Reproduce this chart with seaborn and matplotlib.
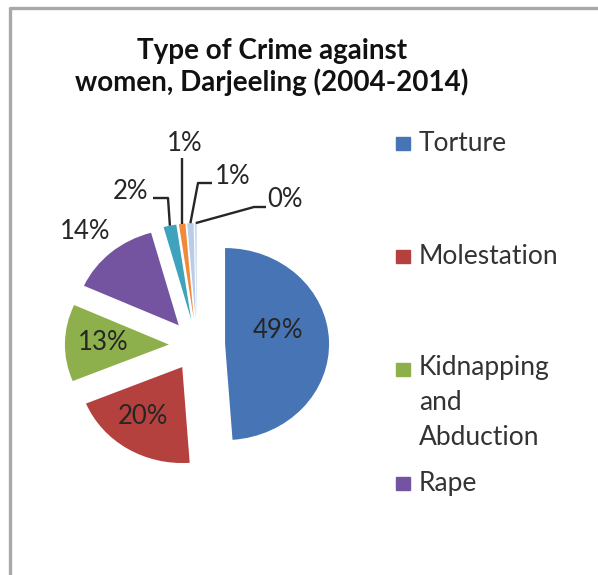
import matplotlib
matplotlib.use("Agg")
import matplotlib.pyplot as plt
import seaborn as sns
from matplotlib.patches import Rectangle
from matplotlib.lines import Line2D
import numpy as np

# data (percent of all crimes)
shares = [49, 20, 13, 14, 2, 1, 1, 0.3]
legend_names = ["Torture", "Molestation", "Kidnapping\nand\nAbduction", "Rape"]
slice_colors = ["#4674B4", "#B5413E", "#8DB04C", "#7454A0",
                "#3FA3BE", "#F0893A", "#B9CDE8", "#C6D9F1"]
title = "Type of Crime against\nwomen, Darjeeling (2004-2014)"

sns.set_theme(style="white")
plt.rcParams['font.family'] = ['Lato', 'DejaVu Sans']
pal = sns.color_palette(slice_colors)

W, H = 598, 575
fig = plt.figure(figsize=(W / 100, H / 100), dpi=100)
fig.patch.set_facecolor("white")

# pie centre and scale in pixels (picture is a bit stretched sideways)
cx, cy, sx, sy = 197, 345, 104, 96
ax = fig.add_axes([0, 0, 1, 1])
wedges, _ = ax.pie(shares, colors=pal, startangle=90, counterclock=False,
                   explode=[0.27] * len(shares), radius=1,
                   wedgeprops=dict(linewidth=0))
ax.set_xlim(-cx / sx, (W - cx) / sx)
ax.set_ylim(-(H - cy) / sy, cy / sy)
ax.set_aspect("auto")
ax.axis("off")


def px(x, y):
    return (x - cx) / sx, (cy - y) / sy


def tip(w):
    a = np.deg2rad((w.theta1 + w.theta2) / 2)
    return w.center[0] + w.r * np.cos(a), w.center[1] + w.r * np.sin(a)


# label positions (pixels in the picture)
label_pos = [(278, 331), (143, 417), (103, 342), (85, 231),
             (130, 191), (185, 143), (233, 176), (285, 199)]
for v, (lx, ly) in zip(shares, label_pos):
    x, y = px(lx, ly)
    ax.text(x, y, f"{v:.0f}%", ha="center", va="center", fontsize=18.5,
            color="#262626")

# leader lines for the thin slices
lc = dict(color="#262626", lw=1.7, solid_capstyle="butt")
tx, ty = tip(wedges[4])
ax.add_line(Line2D([px(153, 198)[0], px(168, 198)[0], tx],
                   [px(153, 198)[1], px(168, 198)[1], ty], **lc))
tx, ty = tip(wedges[5])
ax.add_line(Line2D([tx, tx], [ty, px(0, 158)[1]], **lc))
tx, ty = tip(wedges[6])
ax.add_line(Line2D([px(212, 183)[0], px(198, 183)[0], tx],
                   [px(212, 183)[1], px(198, 183)[1], ty], **lc))
tx, ty = tip(wedges[7])
ax.add_line(Line2D([px(266, 207)[0], px(254, 207)[0], tx],
                   [px(266, 207)[1], px(254, 207)[1], ty], **lc))

# title
fig.text(272 / W, 1 - 67 / H, title, ha="center", va="center",
         fontsize=20, fontweight="bold", color="#111111", linespacing=1.23)

# legend (only the first four entries are visible in the picture)
leg_y = [143, 256, 369, 483]
for name, c, y in zip(legend_names, pal, leg_y):
    fig.patches.append(Rectangle((396 / W, 1 - (y + 7) / H), 14 / W, 13 / H,
                                 transform=fig.transFigure, color=c))
    n = name.count("\n")
    fig.text(419 / W, 1 - (y + 8 + 34 * n) / H, name, ha="left",
             va="baseline", fontsize=19, color="#333333", linespacing=1.5)

# chart frame (cut at the right and bottom)
fig.add_artist(Line2D([10 / W, 10 / W, 1.01], [-0.01, 1 - 8 / H, 1 - 8 / H],
                      transform=fig.transFigure, color="#a8a8a8", lw=2.4))

fig.savefig("out.png", dpi=100)
